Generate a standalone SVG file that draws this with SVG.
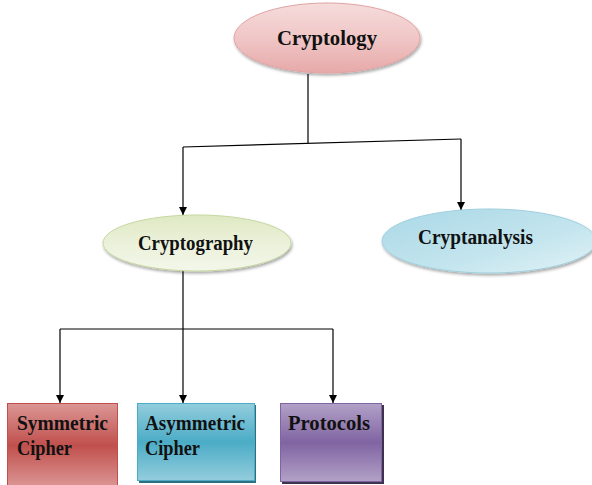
<svg xmlns="http://www.w3.org/2000/svg" width="592" height="485" viewBox="0 0 592 485">
  <defs>
    <linearGradient id="gPink" x1="0" y1="0" x2="0" y2="1">
      <stop offset="0" stop-color="#f6dcdc"/>
      <stop offset="0.5" stop-color="#f0c6c6"/>
      <stop offset="1" stop-color="#e7a9a9"/>
    </linearGradient>
    <linearGradient id="gGreen" x1="0" y1="0" x2="0" y2="1">
      <stop offset="0" stop-color="#dfe9c3"/>
      <stop offset="0.5" stop-color="#ebf1da"/>
      <stop offset="1" stop-color="#f3f7ea"/>
    </linearGradient>
    <linearGradient id="gBlue" x1="0" y1="0" x2="1" y2="1">
      <stop offset="0" stop-color="#a9d8e6"/>
      <stop offset="0.6" stop-color="#c4e5ee"/>
      <stop offset="1" stop-color="#e2f2f6"/>
    </linearGradient>
    <linearGradient id="gRed" x1="0" y1="0" x2="0" y2="1">
      <stop offset="0" stop-color="#dc9795"/>
      <stop offset="0.5" stop-color="#c0504d"/>
      <stop offset="1" stop-color="#dc9795"/>
    </linearGradient>
    <linearGradient id="gCyan" x1="0" y1="0" x2="0" y2="1">
      <stop offset="0" stop-color="#93cddd"/>
      <stop offset="0.5" stop-color="#4bacc6"/>
      <stop offset="1" stop-color="#93cddd"/>
    </linearGradient>
    <linearGradient id="gPurple" x1="0" y1="0" x2="0" y2="1">
      <stop offset="0" stop-color="#b2a1c7"/>
      <stop offset="0.5" stop-color="#8064a2"/>
      <stop offset="1" stop-color="#b2a1c7"/>
    </linearGradient>
    <marker id="arrow" viewBox="0 0 10 10" refX="10" refY="5" markerWidth="8" markerHeight="8" markerUnits="userSpaceOnUse" orient="auto">
      <path d="M0,0 L10,5 L0,10 z" fill="#000"/>
    </marker>
    <filter id="shadow" x="-10%" y="-10%" width="130%" height="140%">
      <feGaussianBlur in="SourceAlpha" stdDeviation="1.5"/>
      <feOffset dx="1" dy="2" result="b"/>
      <feComponentTransfer><feFuncA type="linear" slope="0.35"/></feComponentTransfer>
      <feMerge><feMergeNode/><feMergeNode in="SourceGraphic"/></feMerge>
    </filter>
  </defs>
  <style>
    .label { font-family: "Liberation Serif", "Times New Roman", serif; font-weight: bold; fill: #111; }
    .conn { fill: none; stroke: #000; stroke-width: 1.2; }
  </style>

  <rect width="592" height="485" fill="#fff"/>

  <!-- connectors -->
  <g id="connectors">
    <path class="conn" d="M308,74 V143"/>
    <path class="conn" d="M183,147 L461,139"/>
    <path class="conn" d="M183,147 V215" marker-end="url(#arrow)"/>
    <path class="conn" d="M461,139 V210" marker-end="url(#arrow)"/>
    <path class="conn" d="M183,270 V329"/>
    <path class="conn" d="M60,329 H333"/>
    <path class="conn" d="M60,329 V403" marker-end="url(#arrow)"/>
    <path class="conn" d="M183,329 V403" marker-end="url(#arrow)"/>
    <path class="conn" d="M333,329 V403" marker-end="url(#arrow)"/>
  </g>

  <g id="cryptology">
    <ellipse cx="327" cy="38" rx="93" ry="35" fill="url(#gPink)" stroke="#e1a3a3" stroke-width="1" filter="url(#shadow)"/>
    <text class="label" x="277" y="45" font-size="22" textLength="100" lengthAdjust="spacingAndGlyphs">Cryptology</text>
  </g>

  <g id="cryptography">
    <ellipse cx="197" cy="243" rx="94" ry="28" fill="url(#gGreen)" stroke="#c6d79f" stroke-width="1" filter="url(#shadow)"/>
    <text class="label" x="138" y="250" font-size="20" textLength="115" lengthAdjust="spacingAndGlyphs">Cryptography</text>
  </g>

  <g id="cryptanalysis">
    <ellipse cx="489" cy="241" rx="107" ry="32" fill="url(#gBlue)" stroke="#9fd0de" stroke-width="1" filter="url(#shadow)"/>
    <text class="label" x="418" y="244" font-size="20" textLength="115" lengthAdjust="spacingAndGlyphs">Cryptanalysis</text>
  </g>

  <g id="symmetric">
    <rect x="7.5" y="403.5" width="110" height="84" fill="url(#gRed)" stroke="#c0504d" stroke-width="1"/>
    <text class="label" x="17" y="430" font-size="20" textLength="91" lengthAdjust="spacingAndGlyphs">Symmetric</text>
    <text class="label" x="17" y="455" font-size="20" textLength="55" lengthAdjust="spacingAndGlyphs">Cipher</text>
  </g>

  <g id="asymmetric">
    <rect x="139" y="405" width="117" height="78" fill="#2e6f80"/>
    <rect x="137.5" y="403.5" width="117" height="77" fill="url(#gCyan)" stroke="#4bacc6" stroke-width="1"/>
    <text class="label" x="145" y="430" font-size="20" textLength="100" lengthAdjust="spacingAndGlyphs">Asymmetric</text>
    <text class="label" x="145" y="455" font-size="20" textLength="55" lengthAdjust="spacingAndGlyphs">Cipher</text>
  </g>

  <g id="protocols">
    <rect x="282" y="405" width="102" height="79" fill="#3f3150"/>
    <rect x="280.5" y="403.5" width="101" height="78" fill="url(#gPurple)" stroke="#8064a2" stroke-width="1"/>
    <text class="label" x="288" y="430" font-size="20" textLength="82" lengthAdjust="spacingAndGlyphs">Protocols</text>
  </g>
</svg>
